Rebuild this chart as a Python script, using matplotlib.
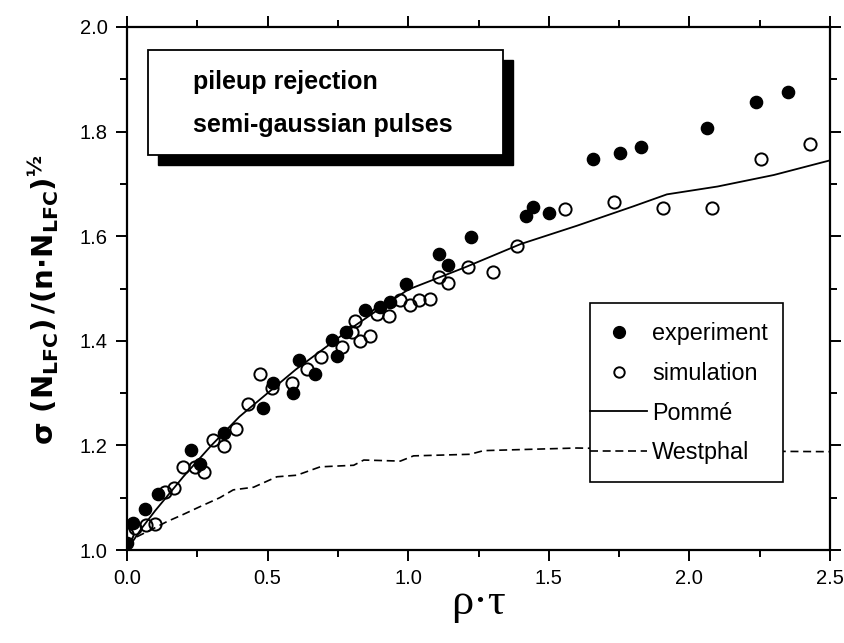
import matplotlib
matplotlib.use("Agg")
import matplotlib.pyplot as plt
from matplotlib.patches import Rectangle
from matplotlib.lines import Line2D
from matplotlib.ticker import MultipleLocator

# ---------------- data ----------------
exp_x = [0.0, 0.02, 0.064, 0.111, 0.228, 0.26, 0.346, 0.483, 0.52, 0.592, 0.61,
         0.669, 0.728, 0.748, 0.779, 0.847, 0.898, 0.936, 0.993, 1.108, 1.14,
         1.222, 1.42, 1.444, 1.50, 1.657, 1.754, 1.829, 2.063, 2.238, 2.35]
exp_y = [1.013, 1.052, 1.078, 1.107, 1.191, 1.165, 1.223, 1.272, 1.319, 1.30, 1.363,
         1.336, 1.402, 1.37, 1.417, 1.458, 1.464, 1.474, 1.508, 1.566, 1.545,
         1.599, 1.639, 1.656, 1.644, 1.747, 1.76, 1.77, 1.807, 1.857, 1.875]

sim_x = [0.0, 0.028, 0.068, 0.10, 0.135, 0.168, 0.20, 0.242, 0.275, 0.307, 0.345,
         0.387, 0.43, 0.473, 0.515, 0.586, 0.64, 0.689, 0.764, 0.80, 0.811, 0.829,
         0.865, 0.889, 0.933, 0.972, 1.006, 1.04, 1.076, 1.108, 1.143, 1.212, 1.30,
         1.386, 1.559, 1.733, 1.906, 2.08, 2.253, 2.428]
sim_y = [1.03, 1.043, 1.048, 1.05, 1.111, 1.119, 1.159, 1.158, 1.149, 1.21, 1.198,
         1.232, 1.28, 1.337, 1.309, 1.319, 1.347, 1.369, 1.388, 1.417, 1.438, 1.40,
         1.41, 1.452, 1.448, 1.478, 1.468, 1.478, 1.48, 1.522, 1.51, 1.541, 1.531,
         1.582, 1.652, 1.665, 1.654, 1.654, 1.747, 1.777]

pomme_x = [0.0, 0.05, 0.1, 0.2, 0.3, 0.4, 0.5, 0.6, 0.7, 0.8, 0.9, 1.0, 1.2, 1.4,
           1.6, 1.8, 1.92, 2.1, 2.3, 2.5]
pomme_y = [1.0, 1.04, 1.075, 1.14, 1.20, 1.255, 1.30, 1.345, 1.385, 1.425, 1.462,
           1.498, 1.54, 1.585, 1.62, 1.657, 1.68, 1.695, 1.717, 1.745]

west_x = [0.0, 0.034, 0.094, 0.141, 0.20, 0.26, 0.33, 0.378, 0.45, 0.533, 0.604,
          0.687, 0.806, 0.842, 0.972, 1.019, 1.22, 1.268, 1.4, 1.6, 1.9, 2.2, 2.5]
west_y = [1.01, 1.025, 1.041, 1.054, 1.068, 1.083, 1.10, 1.115, 1.12, 1.14, 1.143,
          1.159, 1.162, 1.172, 1.170, 1.18, 1.183, 1.19, 1.192, 1.195, 1.192, 1.189,
          1.188]

x_ticks = [0.0, 0.5, 1.0, 1.5, 2.0, 2.5]
x_ticklabels = ["0.0", "0.5", "1.0", "1.5", "2.0", "2.5"]
y_ticks = [1.0, 1.2, 1.4, 1.6, 1.8, 2.0]
y_ticklabels = ["1.0", "1.2", "1.4", "1.6", "1.8", "2.0"]

box_lines = ["pileup rejection", "semi-gaussian pulses"]
legend_labels = ["experiment", "simulation", "Pommé", "Westphal"]

# ---------------- figure ----------------
plt.rcParams['font.family'] = ['Liberation Sans', 'DejaVu Sans']
plt.rcParams['mathtext.fontset'] = 'custom'
plt.rcParams['mathtext.rm'] = 'DejaVu Sans:bold'
plt.rcParams['mathtext.it'] = 'DejaVu Sans:bold'
plt.rcParams['mathtext.bf'] = 'DejaVu Sans:bold'

W, H = 845, 643
fig = plt.figure(figsize=(W / 100, H / 100), dpi=100)
L, R, T, B = 127, 830, 27, 550
ax = fig.add_axes([L / W, 1 - B / H, (R - L) / W, (B - T) / H])

ax.plot(pomme_x, pomme_y, color='black', lw=1.3, zorder=3)
ax.plot(west_x, west_y, color='black', lw=1.2, dashes=(4.8, 2.8), zorder=3)
ax.plot(exp_x, exp_y, 'o', ms=8.8, mfc='black', mec='black', mew=1.0, zorder=4)
ax.plot(sim_x, sim_y, 'o', ms=8.8, mfc='none', mec='black', mew=1.4, zorder=5)

ax.set_xlim(0, 2.5)
ax.set_ylim(1.0, 2.0)
ax.set_xticks(x_ticks)
ax.set_xticklabels(x_ticklabels)
ax.set_yticks(y_ticks)
ax.set_yticklabels(y_ticklabels)
ax.xaxis.set_minor_locator(MultipleLocator(0.25))
ax.yaxis.set_minor_locator(MultipleLocator(0.1))
ax.tick_params(which='both', direction='out', top=True, right=True, width=1.4,
               labelsize=14.5, pad=6)
ax.tick_params(which='major', length=8)
ax.tick_params(which='minor', length=5)
for s in ax.spines.values():
    s.set_linewidth(1.6)

ax.set_ylabel(r'$\sigma\ (\mathrm{N_{LFC}})\,/(\mathrm{n{\cdot}N_{LFC}})^{½}$',
              fontsize=21)
ax.yaxis.label.set_verticalalignment('center')
ax.yaxis.set_label_coords(-0.119, 0.478)
ax.set_xlabel('ρ·τ', family='Liberation Serif', fontsize=32)
ax.xaxis.set_label_coords(0.5, -0.064)

# text box with shadow (axes fraction)
bx0, bx1, by0, by1 = 0.030, 0.535, 0.755, 0.956
dx, dy = 0.0142, -0.0191
ax.add_patch(Rectangle((bx0 + dx, by0 + dy), bx1 - bx0, by1 - by0, transform=ax.transAxes,
                       facecolor='black', edgecolor='black', zorder=6))
ax.add_patch(Rectangle((bx0, by0), bx1 - bx0, by1 - by0, transform=ax.transAxes,
                       facecolor='white', edgecolor='black', lw=1.3, zorder=7))
ax.text(0.094, 0.895, box_lines[0], transform=ax.transAxes, fontsize=18,
        fontweight='bold', va='center', ha='left', zorder=8)
ax.text(0.094, 0.813, box_lines[1], transform=ax.transAxes, fontsize=18,
        fontweight='bold', va='center', ha='left', zorder=8)

# legend frame + legend
lx0, lx1, ly0, ly1 = 0.659, 0.933, 0.130, 0.472
ax.add_patch(Rectangle((lx0, ly0), lx1 - lx0, ly1 - ly0, transform=ax.transAxes,
                       facecolor='white', edgecolor='black', lw=1.2, zorder=6))
handles = [
    Line2D([], [], ls='none', marker='o', ms=8.5, mfc='black', mec='black'),
    Line2D([], [], ls='none', marker='o', ms=7.5, mfc='none', mec='black', mew=1.4),
    Line2D([], [], color='black', lw=1.3),
    Line2D([], [], color='black', lw=1.2, dashes=(4.8, 2.8)),
]
leg = ax.legend(handles, legend_labels, loc='upper left', bbox_to_anchor=(lx0, 0.436),
                frameon=False, borderpad=0, borderaxespad=0, handlelength=2.45,
                handletextpad=0.2, labelspacing=0.72, fontsize=16.8)
leg.set_zorder(9)

fig.savefig('out.png', dpi=100)
